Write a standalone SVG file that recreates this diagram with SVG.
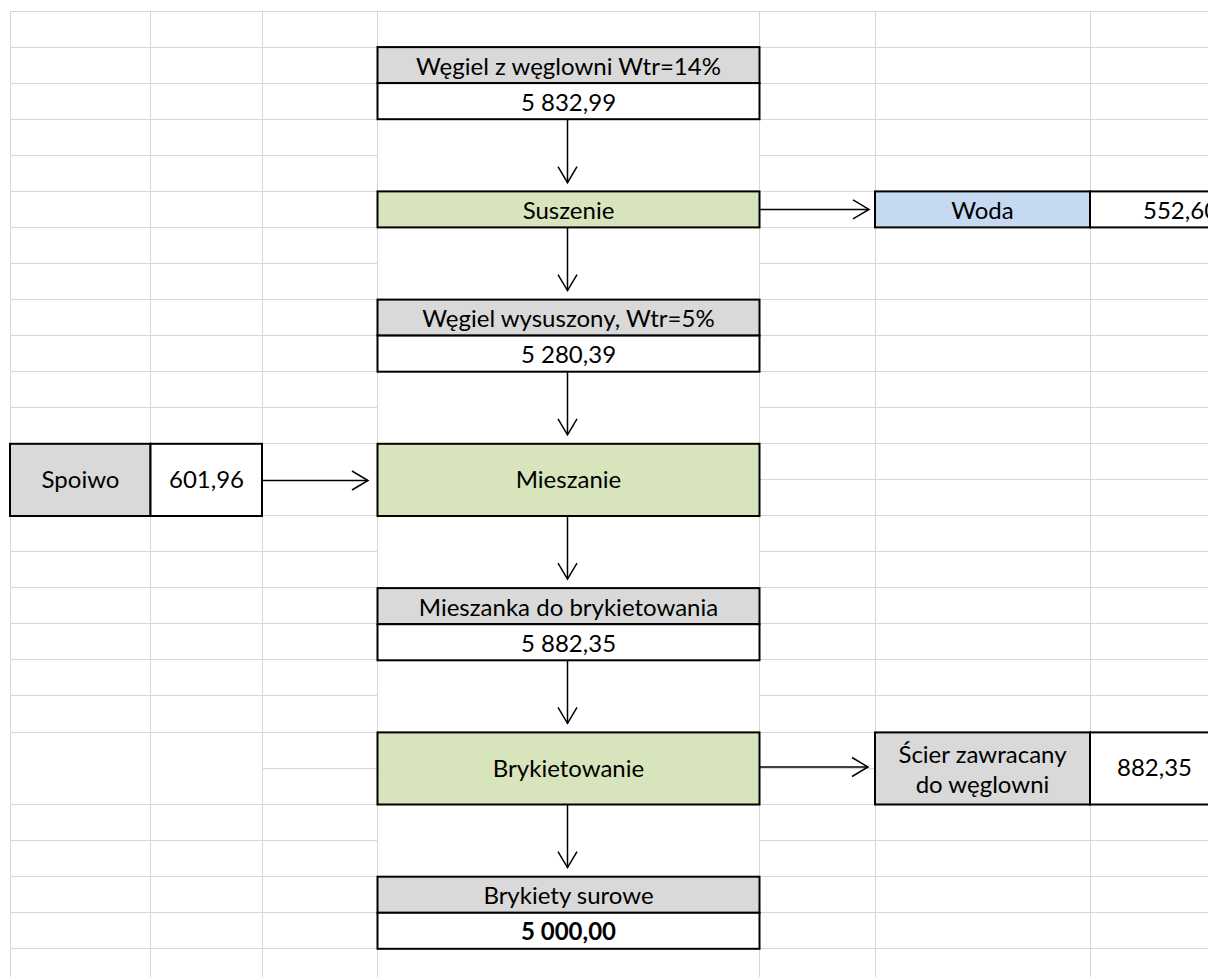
<svg xmlns="http://www.w3.org/2000/svg" width="1208" height="977" viewBox="0 0 1208 977">
<style>
.grid{stroke:#d6d6d6;stroke-width:1;fill:none}
.box{stroke:#000;stroke-width:2}
.gray{fill:#d9d9d9}
.white{fill:#ffffff}
.green{fill:#d8e4bc}
.blue{fill:#c5d9f1}
.t{font-family:Lato,"Liberation Sans",sans-serif;font-size:24px;fill:#000;text-anchor:middle}
.b{font-weight:bold}
.conn{stroke:#000;stroke-width:1.5;fill:none}
</style>
<defs>
<marker id="arr" viewBox="-18 -11 20 22" markerWidth="20" markerHeight="22" refX="0" refY="0" orient="auto" markerUnits="userSpaceOnUse">
<path d="M-16,-9.5 L0,0 L-16,9.5" fill="none" stroke="#000" stroke-width="1.5"/>
</marker>
</defs>
<rect width="1208" height="977" fill="#fff"/>
<g id="grid" class="grid">
<path d="M10,11.5H1208"/>
<path d="M10,47.5H377.5M759.5,47.5H1208"/>
<path d="M10,83.5H377.5M759.5,83.5H1208"/>
<path d="M10,119.5H377.5M759.5,119.5H1208"/>
<path d="M10,155.5H377.5M759.5,155.5H1208"/>
<path d="M10,191.5H377.5M759.5,191.5H1208"/>
<path d="M10,227.5H377.5M759.5,227.5H1208"/>
<path d="M10,263.5H377.5M759.5,263.5H1208"/>
<path d="M10,299.5H377.5M759.5,299.5H1208"/>
<path d="M10,335.5H377.5M759.5,335.5H1208"/>
<path d="M10,371.5H377.5M759.5,371.5H1208"/>
<path d="M10,407.5H377.5M759.5,407.5H1208"/>
<path d="M10,443.5H377.5M759.5,443.5H1208"/>
<path d="M759.5,479.5H1208"/>
<path d="M10,515.5H377.5M759.5,515.5H1208"/>
<path d="M10,551.5H377.5M759.5,551.5H1208"/>
<path d="M10,587.5H377.5M759.5,587.5H1208"/>
<path d="M10,623.5H377.5M759.5,623.5H1208"/>
<path d="M10,659.5H377.5M759.5,659.5H1208"/>
<path d="M10,695.5H377.5M759.5,695.5H1208"/>
<path d="M10,732.5H377.5M759.5,732.5H1208"/>
<path d="M262,768.5H377.5M759.5,768.5H875"/>
<path d="M10,804.5H377.5M759.5,804.5H1208"/>
<path d="M10,840.5H377.5M759.5,840.5H1208"/>
<path d="M10,876.5H377.5M759.5,876.5H1208"/>
<path d="M10,912.5H377.5M759.5,912.5H1208"/>
<path d="M10,948.5H377.5M759.5,948.5H1208"/>
<path d="M10.5,11V977M150.5,11V977M262.5,11V977M377.5,11V977M759.5,11V977M875.5,11V977M1090.5,11V977"/>
</g>
<g id="connectors">
<path class="conn" d="M567.5,119.2V182.7" marker-end="url(#arr)"/>
<path class="conn" d="M567.5,227.4V290.6" marker-end="url(#arr)"/>
<path class="conn" d="M567.5,371.7V434.8" marker-end="url(#arr)"/>
<path class="conn" d="M567.5,516V579.1" marker-end="url(#arr)"/>
<path class="conn" d="M567.5,660.3V723.4" marker-end="url(#arr)"/>
<path class="conn" d="M567.5,804.5V867.6" marker-end="url(#arr)"/>
<path class="conn" d="M759.5,209.4H869" marker-end="url(#arr)"/>
<path class="conn" d="M262,480.5H368" marker-end="url(#arr)"/>
<path class="conn" d="M759.5,767H868" marker-end="url(#arr)"/>
</g>
<g id="wegiel-z-weglowni">
<rect class="box gray" x="377.5" y="47.1" width="382" height="36"/>
<rect class="box white" x="377.5" y="83.1" width="382" height="36.1"/>
<text class="t" x="568.5" y="74.6">Węgiel z węglowni Wtr=14%</text>
<text class="t" x="568.5" y="110.7">5 832,99</text>
</g>
<g id="suszenie">
<rect class="box green" x="377.5" y="191.4" width="382" height="36"/>
<text class="t" x="568.5" y="218.9">Suszenie</text>
</g>
<g id="woda">
<rect class="box blue" x="875" y="191.4" width="215" height="36"/>
<rect class="box white" x="1090" y="191.4" width="129" height="36"/>
<text class="t" x="982.5" y="218.9">Woda</text>
<text class="t" x="1143" y="218.9" style="text-anchor:start">552,60</text>
</g>
<g id="wegiel-wysuszony">
<rect class="box gray" x="377.5" y="299.6" width="382" height="36"/>
<rect class="box white" x="377.5" y="335.6" width="382" height="36.1"/>
<text class="t" x="568.5" y="327.1">Węgiel wysuszony, Wtr=5%</text>
<text class="t" x="568.5" y="363.2">5 280,39</text>
</g>
<g id="spoiwo">
<rect class="box gray" x="10" y="443.8" width="140.5" height="72.2"/>
<rect class="box white" x="150.5" y="443.8" width="111.5" height="72.2"/>
<text class="t" x="80.5" y="488">Spoiwo</text>
<text class="t" x="206.5" y="488">601,96</text>
</g>
<g id="mieszanie">
<rect class="box green" x="377.5" y="443.8" width="382" height="72.2"/>
<text class="t" x="568.5" y="488">Mieszanie</text>
</g>
<g id="mieszanka">
<rect class="box gray" x="377.5" y="588.1" width="382" height="36.1"/>
<rect class="box white" x="377.5" y="624.2" width="382" height="36.1"/>
<text class="t" x="568.5" y="615.7">Mieszanka do brykietowania</text>
<text class="t" x="568.5" y="651.8">5 882,35</text>
</g>
<g id="brykietowanie">
<rect class="box green" x="377.5" y="732.4" width="382" height="72.1"/>
<text class="t" x="568.5" y="776.5">Brykietowanie</text>
</g>
<g id="scier">
<rect class="box gray" x="875" y="732.4" width="215" height="72.1"/>
<rect class="box white" x="1090" y="732.4" width="129" height="72.1"/>
<text class="t" x="982.5" y="762.7">Ścier zawracany</text>
<text class="t" x="982.5" y="793.3">do węglowni</text>
<text class="t" x="1154.5" y="775.8">882,35</text>
</g>
<g id="brykiety-surowe">
<rect class="box gray" x="377.5" y="876.7" width="382" height="36.1"/>
<rect class="box white" x="377.5" y="912.8" width="382" height="36"/>
<text class="t" x="568.5" y="904.3">Brykiety surowe</text>
<text class="t b" x="568.5" y="940.3">5 000,00</text>
</g>
</svg>
